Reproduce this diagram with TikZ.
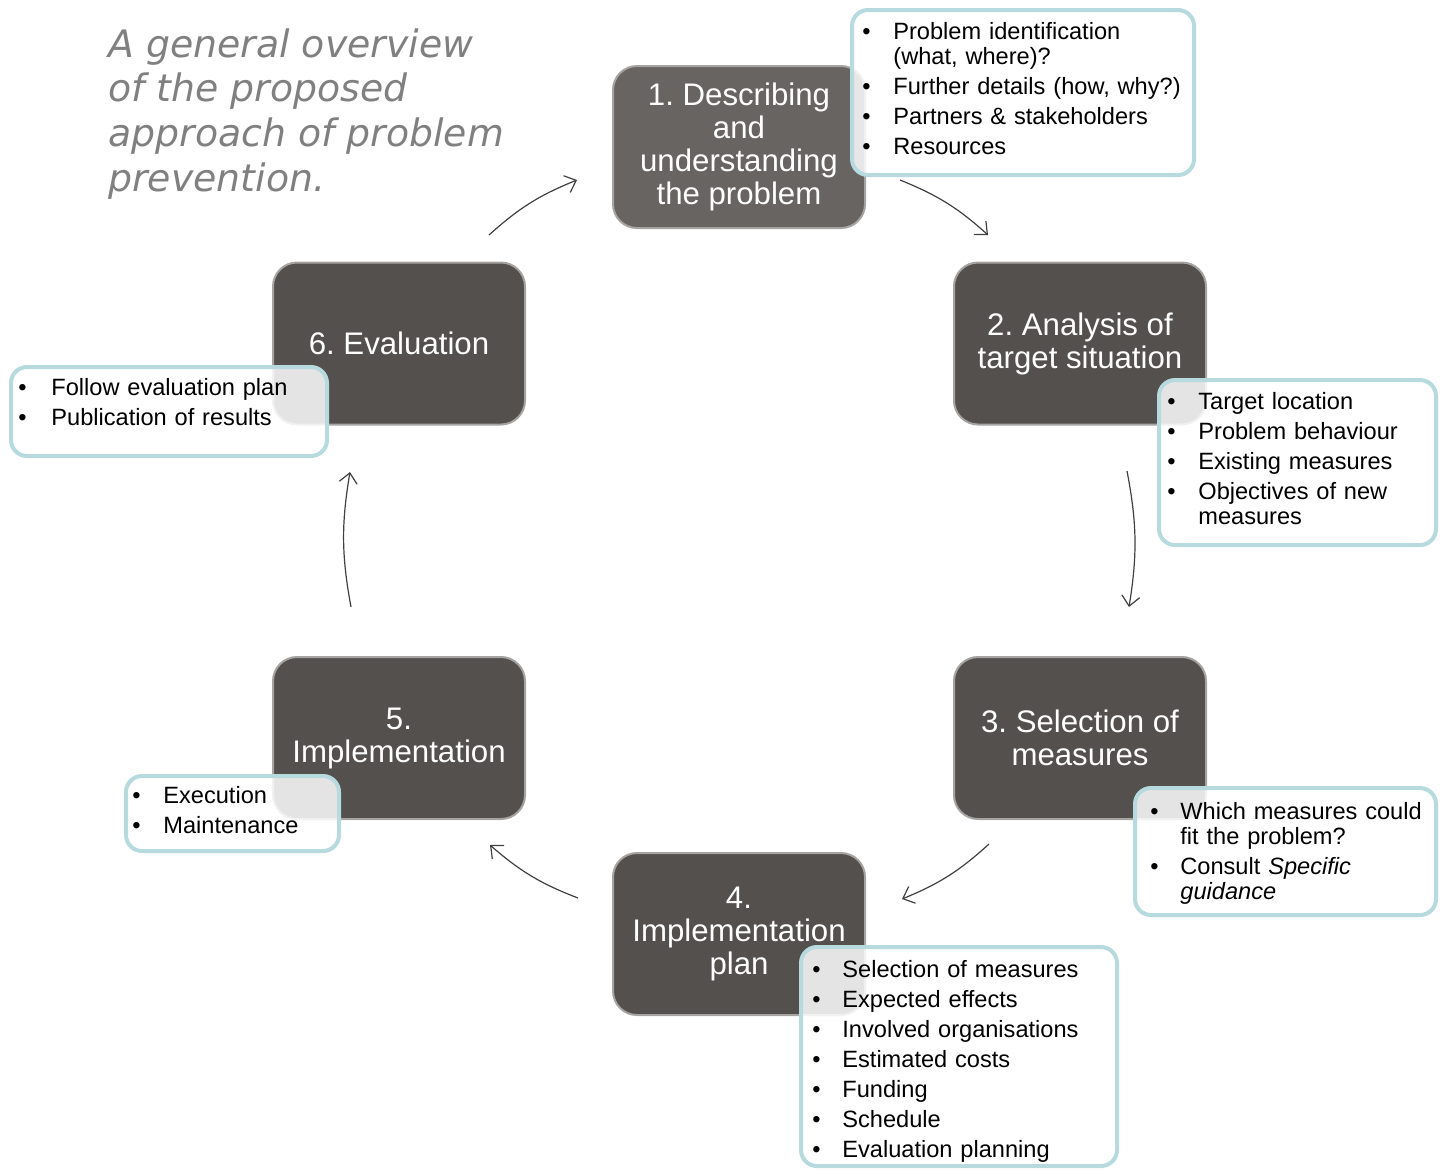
\documentclass[tikz,border=0pt]{standalone}
\usepackage{fontspec}
\setmainfont{Liberation Sans}
\newfontfamily\titlefont{DejaVu Sans}
\usetikzlibrary{arrows.meta}
\definecolor{darkbox}{RGB}{83,80,78}
\definecolor{darkboxA}{RGB}{104,100,98}
\definecolor{boxedge}{RGB}{166,164,162}
\definecolor{calledge}{RGB}{182,218,222}
\definecolor{titlegray}{RGB}{128,128,128}
\definecolor{arrowgray}{RGB}{64,64,64}
\newcommand\bitem[2][15.5pt]{\par\noindent\makebox[#1][l]{\strut\textbullet}\parbox[t]{150pt}{\raggedright\strut #2}}
\begin{document}
\begin{tikzpicture}[x=0.5pt,y=-0.5pt,
  stage/.style={draw=boxedge, line width=1pt, fill=darkbox, rounded corners=12pt,
    minimum width=126pt, minimum height=81pt, text=white, align=center,
    font=\fontsize{15.6}{16.5}\selectfont, inner sep=0pt},
  callout/.style={draw=calledge, line width=2pt, fill=white, fill opacity=0.85,
    rounded corners=8pt, inner sep=0pt},
  calltext/.style={anchor=north west, inner sep=0pt, text width=#1,
    font=\fontsize{11.8}{12.5}\selectfont\setlength{\parskip}{2.5pt}},
  link/.style={draw=arrowgray, line width=0.6pt,
    -{Straight Barb[length=5pt,width=9pt]}, bend left=10}]
\useasboundingbox (0,0) rectangle (1445,1169);

% title
\node[anchor=base west, align=left, text=titlegray, inner sep=0pt,
  font=\titlefont\itshape\fontsize{18.9}{22.3}\selectfont] (title) at (108,191)
  {A general overview\\of the proposed\\approach of problem\\prevention.};

% stages
\node[stage, fill=darkboxA] (s1) at (739,147) {1.\ Describing\\and\\understanding\\the problem};
\node[stage] (s2) at (1080,343.5) {2.\ Analysis of\\target situation};
\node[stage] (s3) at (1080,738) {3.\ Selection of\\measures};
\node[stage] (s4) at (739,934) {4.\\Implementation\\plan};
\node[stage] (s5) at (399,738) {5.\\Implementation};
\node[stage] (s6) at (399,343.5) {6.\ Evaluation};

% callouts
\node[callout, minimum width=171pt, minimum height=82.5pt] (c1) at (1023,92.5) {};
\node[callout, minimum width=138.5pt, minimum height=82.5pt] (c2) at (1297.5,462.5) {};
\node[callout, minimum width=150.5pt, minimum height=63.5pt] (c3) at (1285.5,851.5) {};
\node[callout, minimum width=158pt, minimum height=109.5pt] (c4) at (959,1056.5) {};
\node[callout, minimum width=106.5pt, minimum height=37.5pt] (c5) at (232.5,813.5) {};
\node[callout, minimum width=158pt, minimum height=44.5pt] (c6) at (169,411.5) {};

% callout texts
\node[calltext=170pt] (t1) at (862,9.5) {%
  \bitem{Problem identification\\(what, where)?}
  \bitem{Further details (how, why?)}
  \bitem{Partners \& stakeholders}
  \bitem{Resources}};
\node[calltext=140pt] (t2) at (1167,379.5) {%
  \bitem{Target location}
  \bitem{Problem behaviour}
  \bitem{Existing measures}
  \bitem{Objectives of new\\measures}};
\node[calltext=150pt] (t3) at (1150,789.5) {%
  \bitem[15pt]{Which measures could\\fit the problem?}
  \bitem[15pt]{Consult \textit{Specific}\\\textit{guidance}}};
\node[calltext=160pt] (t4) at (812,947.5) {%
  \bitem[15pt]{Selection of measures}
  \bitem[15pt]{Expected effects}
  \bitem[15pt]{Involved organisations}
  \bitem[15pt]{Estimated costs}
  \bitem[15pt]{Funding}
  \bitem[15pt]{Schedule}
  \bitem[15pt]{Evaluation planning}};
\node[calltext=110pt] (t5) at (132,773.5) {%
  \bitem{Execution}
  \bitem{Maintenance}};
\node[calltext=160pt] (t6) at (18,365.5) {%
  \bitem[16.5pt]{Follow evaluation plan}
  \bitem[16.5pt]{Publication of results}};

% arrow end points
\coordinate (a1s) at (900,180);  \coordinate (a1e) at (988,235);
\coordinate (a2s) at (1127,471); \coordinate (a2e) at (1129,607);
\coordinate (a3s) at (989,844);  \coordinate (a3e) at (902,899);
\coordinate (a4s) at (578,898);  \coordinate (a4e) at (490,845);
\coordinate (a5s) at (351,607);  \coordinate (a5e) at (350,472);
\coordinate (a6s) at (489,235);  \coordinate (a6e) at (577,180);

\draw[link] (a1s) to (a1e);
\draw[link] (a2s) to (a2e);
\draw[link] (a3s) to (a3e);
\draw[link] (a4s) to (a4e);
\draw[link] (a5s) to (a5e);
\draw[link] (a6s) to (a6e);
\end{tikzpicture}
\end{document}
